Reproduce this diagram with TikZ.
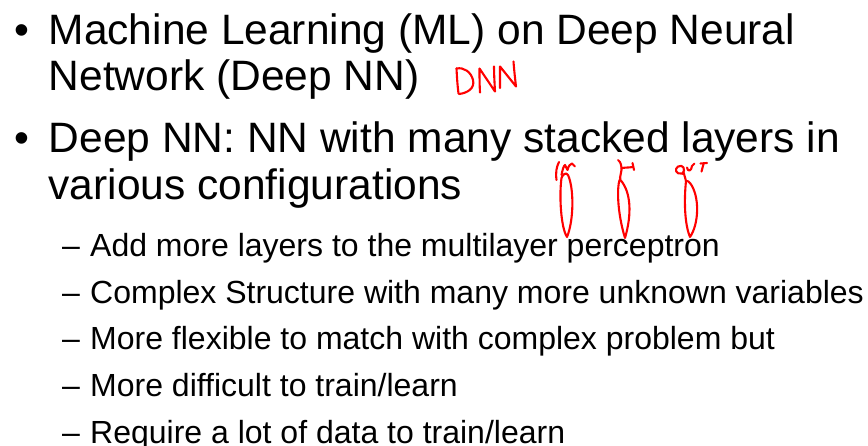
\documentclass[tikz,border=0pt]{standalone}
\usepackage{fontspec}
\setmainfont{Liberation Sans}
\begin{document}
\begin{tikzpicture}[x=1pt,y=-1pt,
  lvlone/.style={inner sep=0pt,anchor=base west,font=\fontsize{42.5}{50}\selectfont},
  lvltwo/.style={inner sep=0pt,anchor=base west,font=\fontsize{32}{38}\selectfont},
  ink/.style={draw=red,line width=2.1pt,line cap=round,line join=round}]
\useasboundingbox (0,0) rectangle (868,446);
\fill[white] (0,0) rectangle (868,446);

% first-level bullets
\node[lvlone] (b1) at (14.5,45) {•};
\node[lvlone] (t1a) at (48.5,45) {Machine Learning (ML) on Deep Neural};
\node[lvlone] (t1b) at (48.5,91) {Network (Deep NN)};
\node[lvlone] (b2) at (14.5,153) {•};
\node[lvlone] (t2a) at (48.5,153) {Deep NN: NN with many stacked layers in};
\node[lvlone] (t2b) at (48.5,200) {various configurations};

% second-level items
\node[lvltwo] (d1) at (62,257) {–};
\node[lvltwo] (s1) at (90,257) {Add more layers to the multilayer perceptron};
\node[lvltwo] (d2) at (62,303.5) {–};
\node[lvltwo] (s2) at (90,303.5) {Complex Structure with many more unknown variables};
\node[lvltwo] (d3) at (62,350) {–};
\node[lvltwo] (s3) at (90,350) {More flexible to match with complex problem but};
\node[lvltwo] (d4) at (62,396.5) {–};
\node[lvltwo] (s4) at (90,396.5) {More difficult to train/learn};
\node[lvltwo] (d5) at (62,443) {–};
\node[lvltwo] (s5) at (90,443) {Require a lot of data to train/learn};

% handwritten "DNN"
\draw[ink] (456.5,68.5) .. controls (457,78) and (457.5,86) .. (458.5,93.5);
\draw[ink] (456.5,68.5) .. controls (464,67) and (471,72) .. (473,80)
  .. controls (475,88) and (468,93) .. (459,94);
\draw[ink] (480,92.5) .. controls (479.5,84) and (479.5,75) .. (479.5,68.5)
  -- (495,91.5) .. controls (494.5,82) and (494,74) .. (494,66.5);
\draw[ink] (500,88) .. controls (500,80) and (500,72) .. (500,66.5)
  -- (516,86.5) .. controls (515,78) and (514,69) .. (513.5,61.5);

% input layer sketch
\draw[ink] (556.5,180) .. controls (555.5,172) and (556.5,167) .. (559,162);
\draw[ink] (561.5,175) .. controls (562.5,170) and (563.5,166) .. (565,165)
  .. controls (566.5,168) .. (567.5,170) .. controls (568.5,166) and (570,164) .. (572,163.5)
  .. controls (573.5,164.5) .. (575,166.5);
\draw[ink] (561.5,178) .. controls (563,174) and (566,172) .. (568,175)
  .. controls (574,188) and (574,220) .. (567,237)
  .. controls (561,228) and (559,196) .. (561.5,178);

% hidden layer sketch
\draw[ink] (618,160) .. controls (621,162) and (621.5,166) .. (621.5,170)
  .. controls (621.5,174) .. (620,178);
\draw[ink] (621.5,168) .. controls (626,167.5) and (630,167.5) .. (633,167);
\draw[ink] (632.5,163) .. controls (633,166) .. (634,170);
\draw[ink] (620.5,178) .. controls (616.5,184) and (617,212) .. (625,238)
  .. controls (632,214) and (631,192) .. (620.5,180);

% output layer sketch
\draw[ink] (682,173.5) .. controls (676,175) and (674,169) .. (678,166.5)
  .. controls (683,164) and (686,169) .. (682.5,174);
\draw[ink] (687,167.5) .. controls (687.5,172) and (691.5,171.5) .. (692,166)
  .. controls (692.5,164.5) .. (694.5,163.5);
\draw[ink] (700.5,163.5) -- (707,163);
\draw[ink] (703.5,164) .. controls (702.5,167) .. (701.5,171.5);
\draw[ink] (683.5,172) .. controls (685,176) .. (686,181);
\draw[ink] (686,181) .. controls (688,181) .. (690,183)
  .. controls (700,196) and (699,224) .. (690,237)
  .. controls (684.5,224) and (684,200) .. (686,181);
\end{tikzpicture}
\end{document}
